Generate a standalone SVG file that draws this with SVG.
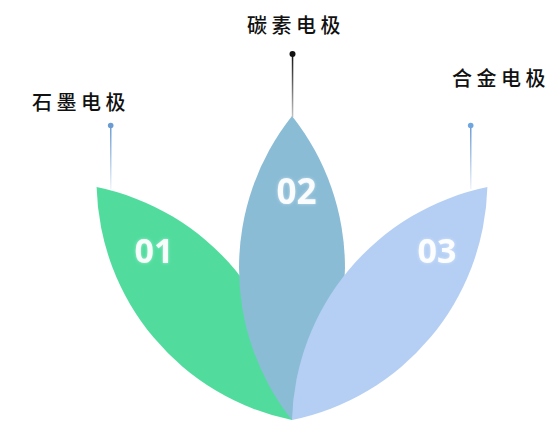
<svg xmlns="http://www.w3.org/2000/svg" width="558" height="426" viewBox="0 0 558 426">
<style>
.lbl{font-family:"Noto Sans CJK SC","Liberation Serif",serif;font-size:20px;font-weight:500;fill:#111111;letter-spacing:4.5px}
.num{font-family:"Open Sans","Liberation Sans",sans-serif;font-weight:bold;font-size:34px;fill:#ffffff;fill-opacity:0.92;text-anchor:middle;filter:url(#glow)}
</style>
<defs>
<path id="petal" d="M292,420 A244.5,244.5 0 0 1 292,116 A244.5,244.5 0 0 1 292,420 Z"/>
<filter id="glow" x="-30%" y="-30%" width="160%" height="160%">
<feDropShadow dx="0" dy="0" stdDeviation="1.8" flood-color="#ffffff" flood-opacity="0.5"/>
</filter>
<linearGradient id="gBlue" x1="0" y1="0" x2="0" y2="1">
<stop offset="0" stop-color="#6a9bd2"/>
<stop offset="1" stop-color="#6a9bd2" stop-opacity="0.1"/>
</linearGradient>
<linearGradient id="gBlack" x1="0" y1="0" x2="0" y2="1">
<stop offset="0" stop-color="#111111"/>
<stop offset="1" stop-color="#111111" stop-opacity="0.25"/>
</linearGradient>
</defs>
<rect width="558" height="426" fill="#ffffff"/>
<g id="connectors">
<rect x="110" y="125" width="1.5" height="64" fill="url(#gBlue)"/>
<circle cx="110.7" cy="125.5" r="2.8" fill="#6a9bd2"/>
<rect x="291.8" y="54" width="1.5" height="63" fill="url(#gBlack)"/>
<circle cx="292.5" cy="54" r="3" fill="#111111"/>
<rect x="470" y="125" width="1.5" height="64" fill="url(#gBlue)"/>
<circle cx="470.7" cy="125.5" r="2.8" fill="#6fa6df"/>
</g>
<g id="node-01">
<use href="#petal" transform="rotate(-40 292 420)" fill="#51dc9e"/>
<text class="num" x="154" y="263">01</text>
<text class="lbl" x="32" y="110">石墨电极</text>
</g>
<g id="node-02">
<use href="#petal" fill="#8bbcd6"/>
<text class="num" x="296.5" y="204" style="font-size:35px">02</text>
<text class="lbl" x="247" y="33">碳素电极</text>
</g>
<g id="node-03">
<use href="#petal" transform="rotate(40 292 420)" fill="#b5cff4"/>
<text class="num" x="437" y="263">03</text>
<text class="lbl" x="452" y="86">合金电极</text>
</g>
</svg>
